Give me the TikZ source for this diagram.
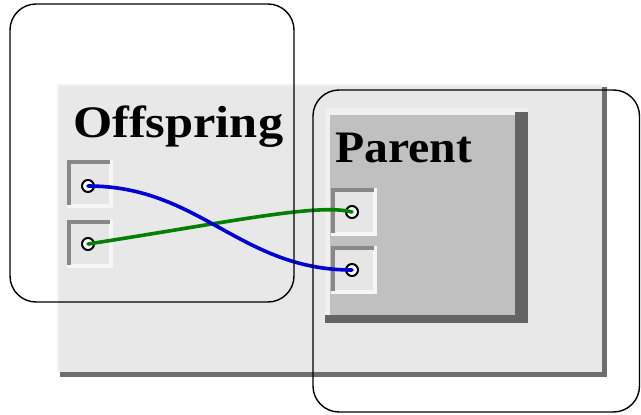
\documentclass[tikz,border=0pt]{standalone}
\usepackage{fontspec}
\setmainfont{Liberation Serif}
\definecolor{panelgray}{HTML}{E8E8E8}
\definecolor{panelshade}{HTML}{6E6E6E}
\definecolor{panelhi}{HTML}{F2F2F2}
\definecolor{boxgray}{HTML}{C0C0C0}
\definecolor{boxshade}{HTML}{646464}
\definecolor{boxhi}{HTML}{F0F0F0}
\definecolor{portdark}{HTML}{888888}
\definecolor{portlight}{HTML}{F6F6F6}
\definecolor{portface}{HTML}{E6E6E6}
\definecolor{wireblue}{HTML}{0000D4}
\definecolor{wiregreen}{HTML}{008000}
% sunken socket: dark top/left edges, light bottom/right edges
\newcommand\portwell[2]{%
  \fill[portlight] (#1,#2) rectangle ++(46,48);
  \fill[portdark] (#1,#2) rectangle ++(43,4);
  \fill[portdark] (#1,#2) rectangle ++(4,45);
  \fill[portface] (#1+4,#2+4) rectangle ++(38,40);
}
\begin{document}
\begin{tikzpicture}[x=1pt,y=-1pt,
  frame/.style={draw=black, line width=1.4pt, rounded corners=26pt},
  dot/.style={circle, draw=black, fill=white, line width=2pt, inner sep=0pt, minimum size=12pt},
  wire/.style={line width=3.6pt, line cap=round},
  title/.style={font=\bfseries\fontsize{45}{45}\selectfont, anchor=base west, inner sep=0pt}
]
\useasboundingbox (0,0) rectangle (641,415);

% raised panel behind both modules
\fill[panelshade] (60,87) rectangle (607,377);
\fill[panelhi] (57,84) rectangle (602,372);
\fill[panelgray] (59,86) rectangle (602,372);

% parent module body with bevel
\fill[boxhi] (325,108) rectangle (528,323);
\fill[boxshade] (515,112) rectangle (528,323);
\fill[boxshade] (325,315) rectangle (528,323);
\fill[boxgray] (330,115) rectangle (515,315);

% titles
\node[title] (offtitle) at (73,137) {\scalebox{1.12}[1]{Offspring}};
\node[title] (partitle) at (335,162) {\scalebox{1.06}[1]{Parent}};

% sockets
\portwell{67}{160}
\portwell{67}{220}
\portwell{331}{188}
\portwell{331}{246}

% socket pins
\node[dot] (o1) at (88,186) {};
\node[dot] (o2) at (88,244) {};
\node[dot] (p1) at (352,212) {};
\node[dot] (p2) at (352,270) {};

% connections
\draw[wire, wiregreen] (o2.center) .. controls (230,222) and (318,203) .. (p1.center);
\draw[wire, wireblue] (o1.center) .. controls (200,186) and (240,270) .. (p2.center);

% selection frames
\draw[frame] (10,4) rectangle (294,302);
\draw[frame] (313,90) rectangle (639.5,412);
\end{tikzpicture}
\end{document}
